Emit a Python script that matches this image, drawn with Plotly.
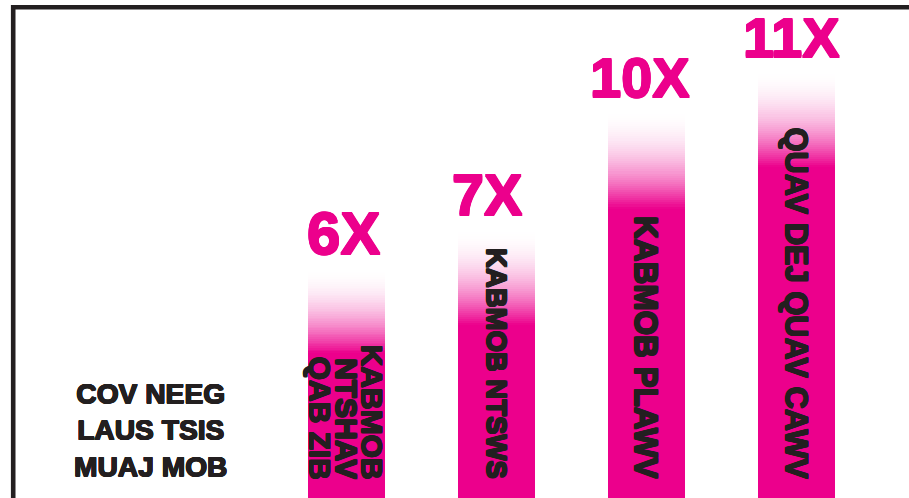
import plotly.graph_objects as go

# ---- data ----
categories = ["KABMOB NTSHAV QAB ZIB", "KABMOB NTSWS", "KABMOB PLAWV", "QUAV DEJ QUAV CAWV"]
values = [6, 7, 10, 11]
value_labels = ["6X", "7X", "10X", "11X"]
bar_text_lines = [["KABMOB", "NTSHAV", "QAB ZIB"], ["KABMOB NTSWS"], ["KABMOB PLAWV"], ["QUAV DEJ QUAV CAWV"]]
side_label = "COV NEEG<br>LAUS TSIS<br>MUAJ MOB"

# ---- style ----
MAGENTA = (236, 0, 140)
DARK = "#231F20"
FONT = "Liberation Sans, Arial, sans-serif"
fade_len = [2.15, 2.45, 2.5, 2.45]   # length of white fade at top of each bar (axis units)
inner_size = [30, 27.5, 31.5, 30.8]  # font size of text inside each bar
label_size = [60, 57.5, 56, 56]      # font size of value labels
label_xshift = [-3, -10, -7, -5]     # px offset of value labels
line_offsets = [25.5, 0, -26.5]      # px offsets of stacked lines inside first bar
N_SLICES = 48
BAR_W = 0.513


def mix(a):
    r = round(255 - a * (255 - MAGENTA[0]))
    g = round(255 - a * (255 - MAGENTA[1]))
    b = round(255 - a * (255 - MAGENTA[2]))
    return f"rgb({r},{g},{b})"


def heavy(color, d=0.6):
    return ", ".join(f"{dx}px {dy}px 0 {color}" for dx, dy in
                     [(d, 0), (-d, 0), (0, d), (0, -d), (d, d), (-d, -d), (d, -d), (-d, d)])


fig = go.Figure()

# solid part of each bar
fig.add_trace(go.Bar(
    x=categories,
    y=[v - f for v, f in zip(values, fade_len)],
    base=[0] * len(values),
    width=BAR_W,
    marker=dict(color=mix(1.0), line=dict(width=0)),
    hoverinfo="skip",
    showlegend=False,
))

# fading top of each bar (stack of slices)
for k in range(N_SLICES):
    frac = (k + 0.5) / N_SLICES
    a = (1 - frac) ** 2
    bases = [v - f + f * k / N_SLICES for v, f in zip(values, fade_len)]
    heights = []
    for v, f, b in zip(values, fade_len, bases):
        h = f / N_SLICES * (1.8 if k < N_SLICES - 1 else 1.0)
        heights.append(min(h, v - b))
    fig.add_trace(go.Bar(
        x=categories,
        y=heights,
        base=bases,
        width=BAR_W,
        marker=dict(color=mix(a), line=dict(width=0)),
        hoverinfo="skip",
        showlegend=False,
    ))

annotations = []
# value labels above bars
for i, (c, v, lab) in enumerate(zip(categories, values, value_labels)):
    annotations.append(dict(
        x=c, y=v, xref="x", yref="y", text=lab, showarrow=False,
        xanchor="center", yanchor="bottom", xshift=label_xshift[i], yshift=-1,
        font=dict(family=FONT, size=label_size[i], color=mix(1.0), weight="bold",
                  shadow=heavy(mix(1.0), 0.7)),
    ))

# rotated text inside bars
for i, (c, lines) in enumerate(zip(categories, bar_text_lines)):
    offs = line_offsets if len(lines) > 1 else [0]
    for line, off in zip(lines, offs):
        annotations.append(dict(
            x=c, y=0.034, xref="x", yref="paper", text=line, showarrow=False,
            textangle=90, xanchor="center", yanchor="bottom", xshift=off,
            font=dict(family=FONT, size=inner_size[i], color=DARK, weight="bold",
                      shadow=heavy(DARK, 0.6)),
        ))

# side label
annotations.append(dict(
    x=150 / 909, y=1 - 429 / 498, xref="paper", yref="paper", text=side_label,
    showarrow=False, xanchor="center", yanchor="middle", align="center",
    font=dict(family=FONT, size=28.2, color=DARK, weight="bold",
              shadow=heavy(DARK, 0.5)),
))

fig.update_layout(
    width=909, height=498,
    margin=dict(l=0, r=0, t=0, b=0),
    paper_bgcolor="white", plot_bgcolor="white",
    barmode="overlay", bargap=0,
    showlegend=False,
    xaxis=dict(type="category", range=[-2.31, 3.75], visible=False, fixedrange=True),
    yaxis=dict(range=[0.192, 12.768], visible=False, fixedrange=True),
    annotations=annotations,
    shapes=[
        dict(type="path", xref="paper", yref="paper",
             path=f"M {13.2/909} -0.01 L {13.2/909} {1 - 7.2/498} L 1.01 {1 - 7.2/498}",
             line=dict(color=DARK, width=4.6)),
    ],
)

fig.write_html(
    "out.html",
    config={"displayModeBar": False},
    post_script="document.body.style.margin='0';document.body.style.padding='0';document.body.style.overflow='hidden';",
)
